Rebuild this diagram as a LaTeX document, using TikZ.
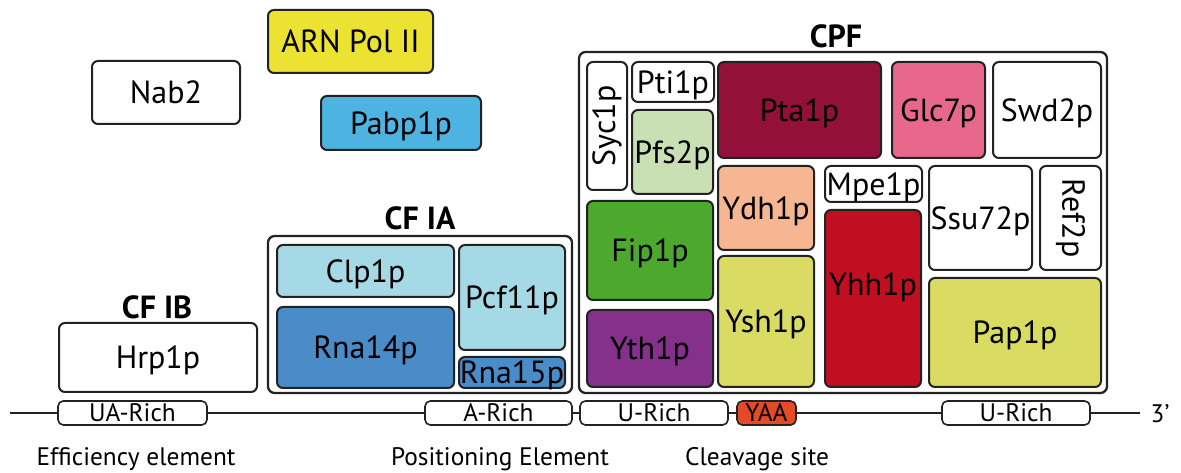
\documentclass[tikz,border=0pt]{standalone}
\usepackage{fontspec}
\setmainfont{PT Sans}
\usetikzlibrary{calc}
\definecolor{polii}{HTML}{EBE232}
\definecolor{pabp}{HTML}{4DB4E2}
\definecolor{ltblue}{HTML}{A6D9E6}
\definecolor{dkblue}{HTML}{4A8CC8}
\definecolor{pfs}{HTML}{C8E0B4}
\definecolor{pta}{HTML}{921039}
\definecolor{glc}{HTML}{E8688C}
\definecolor{ydh}{HTML}{F5B691}
\definecolor{fip}{HTML}{4DA82E}
\definecolor{yth}{HTML}{85308A}
\definecolor{ysh}{HTML}{D9DB62}
\definecolor{yhh}{HTML}{C00F21}
\definecolor{yaa}{HTML}{E54A26}
\definecolor{edge}{HTML}{222222}
% \pbx[style]{name}{x1}{y1}{x2}{y2}{text}
\newcommand\pbx[7][pbox]{\node[#1, minimum width={(#5-#3)*0.75pt}, minimum height={(#6-#4)*0.75pt}]
  (#2) at ({(#3+#5)/2},{(#4+#6)/2}) {#7};}
\begin{document}
\begin{tikzpicture}[x=0.75pt,y=-0.75pt,
  pbox/.style={draw=edge, line width=1.5pt, rounded corners=4.5pt, inner sep=0pt,
     font=\fontsize{24}{26}\selectfont, text height=17pt, text depth=0pt},
  grp/.style={draw=edge, line width=1.7pt, rounded corners=5pt, inner sep=0pt, fill=white},
  title/.style={font=\bfseries\fontsize{24}{26}\selectfont},
  seq/.style={draw=edge, line width=1.2pt, rounded corners=4pt, inner sep=0pt,
     font=\fontsize{19}{21}\selectfont, text height=13.3pt, text depth=0pt},
  captext/.style={font=\fontsize{19}{21}\selectfont},
  rlabel/.style={font=\fontsize{24}{26}\selectfont, inner sep=0pt}]
\useasboundingbox (0,0) rectangle (1181,473);

% free-standing factors
\pbx[pbox, fill=polii]{pol}{268}{10}{433}{73}{ARN Pol II}
\pbx[pbox, fill=white]{nab}{92}{61}{240}{124}{Nab2}
\pbx[pbox, fill=pabp]{pabp}{321}{96}{481}{150}{Pabp1p}

% CF IB
\node[title] (cfibt) at (157,307) {CF IB};
\pbx[pbox, fill=white]{hrp}{59}{323}{257}{392}{Hrp1p}

% CF IA
\node[title] (cfiat) at (420,218) {CF IA};
\pbx[grp]{cfia}{268}{236}{572}{393}{}
\pbx[pbox, fill=ltblue]{clp}{277}{245}{454}{297}{Clp1p}
\pbx[pbox, fill=dkblue]{rna14}{277}{307}{454}{388}{Rna14p}
\pbx[pbox, fill=ltblue]{pcf}{459}{245}{565}{350}{Pcf11p}
\pbx[pbox, fill=dkblue]{rna15}{459}{357}{565}{388}{Rna15p}

% CPF
\node[title] (cpft) at (836,36) {CPF};
\pbx[grp]{cpf}{579}{52}{1107}{393}{}
\pbx[pbox, fill=white]{syc}{587}{62}{627}{190}{}
\node[rlabel, rotate=90] (syct) at (syc.center) {Syc1p};
\pbx[pbox, fill=white]{pti}{632}{62}{714}{102}{Pti1p}
\pbx[pbox, fill=pfs]{pfs}{632}{110}{713}{194}{Pfs2p}
\pbx[pbox, fill=pta]{pta}{718}{62}{881}{158}{Pta1p}
\pbx[pbox, fill=glc]{glc}{892}{62}{985}{158}{Glc7p}
\pbx[pbox, fill=white]{swd}{993}{62}{1101}{158}{Swd2p}
\pbx[pbox, fill=ydh]{ydh}{718}{166}{814}{250}{Ydh1p}
\pbx[pbox, fill=white]{mpe}{825}{166}{922}{202}{Mpe1p}
\pbx[pbox, fill=white]{ssu}{929}{166}{1032}{270}{Ssu72p}
\pbx[pbox, fill=white]{ref}{1040}{166}{1101}{270}{}
\node[rlabel, rotate=-90] (reft) at (ref.center) {Ref2p};
\pbx[pbox, fill=fip]{fip}{587}{201}{713}{300}{Fip1p}
\pbx[pbox, fill=yth]{yth}{587}{310}{713}{387}{Yth1p}
\pbx[pbox, fill=ysh]{ysh}{718}{256}{814}{387}{Ysh1p}
\pbx[pbox, fill=yhh]{yhh}{825}{210}{921}{387}{}
\node[rlabel] (yhht) at (873,287) {Yhh1p};
\pbx[pbox, fill=ysh]{pap}{929}{278}{1101}{387}{Pap1p}

% RNA line
\coordinate (s) at (10,413);
\coordinate (e) at (1140,413);
\pbx[seq, fill=white]{ua}{58}{401}{207}{425}{UA-Rich}
\pbx[seq, fill=white]{ar}{425}{401}{572}{425}{A-Rich}
\pbx[seq, fill=white]{ur1}{580}{401}{728}{425}{U-Rich}
\pbx[seq, fill=yaa]{yaa}{737}{401}{796}{425}{YAA}
\pbx[seq, fill=white]{ur2}{942}{401}{1090}{425}{U-Rich}
\node[captext, anchor=west] (tp) at (1146,414) {3’};
\draw[line width=1.5pt, draw=edge] (s) -- (ua.west) (ua.east) -- (ar.west) (ar.east) -- (ur1.west)
  (ur1.east) -- (yaa.west) (yaa.east) -- (ur2.west) (ur2.east) -- (e);

\node[captext] (eff) at (136,459) {Efficiency element};
\node[captext] (pos) at (500,459) {Positioning Element};
\node[captext] (clv) at (757,459) {Cleavage site};
\end{tikzpicture}
\end{document}
